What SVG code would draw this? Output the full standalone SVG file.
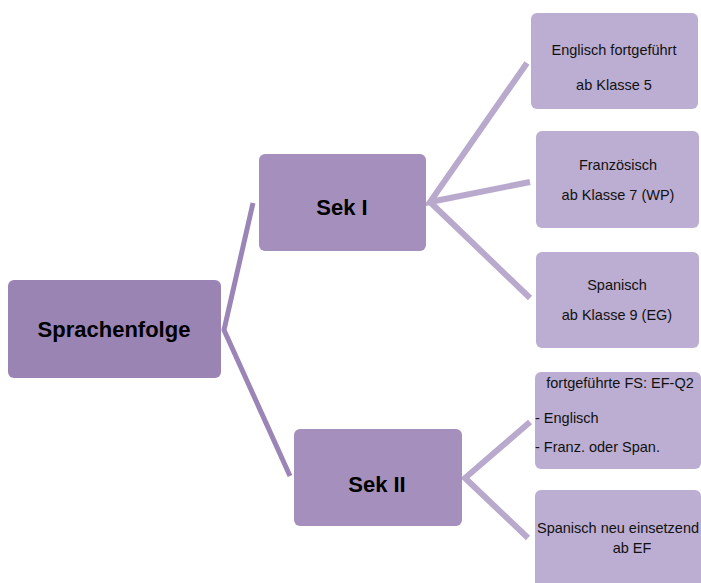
<svg xmlns="http://www.w3.org/2000/svg" width="701" height="583" viewBox="0 0 701 583">
<style>
.root{fill:#9a84b4}
.mid{fill:#a590bd}
.leaf{fill:#bcaed2}
.big{font-family:"Liberation Sans",Arial,sans-serif;font-weight:bold;font-size:22px;fill:#000;text-anchor:middle}
.small{font-family:"Liberation Sans",Arial,sans-serif;font-size:14.5px;fill:#111;text-anchor:middle}
.left{text-anchor:start}
.c1{stroke:#9b85b6;stroke-width:5;fill:none;stroke-linejoin:miter}
.c2{stroke:#b8a9cd;stroke-width:6;fill:none;stroke-linejoin:miter}
</style>
<rect width="701" height="583" fill="#fff"/>
<g id="connectors">
<polyline class="c1" points="253,203 224,330 290,476"/>
<polyline class="c2" points="527,63 430,202 530,182"/>
<line class="c2" x1="430" y1="202" x2="530" y2="298"/>
<polyline class="c2" points="530,422 465,478 528,538"/>
</g>
<g id="sprachenfolge">
<rect class="root" x="8" y="280" width="213" height="98" rx="6"/>
<text class="big" x="114" y="337">Sprachenfolge</text>
</g>
<g id="sek1">
<rect class="mid" x="259" y="154" width="167" height="97" rx="6"/>
<text class="big" x="342" y="215">Sek I</text>
</g>
<g id="sek2">
<rect class="mid" x="294" y="429" width="168" height="97" rx="6"/>
<text class="big" x="377" y="492">Sek II</text>
</g>
<g id="leaf1">
<rect class="leaf" x="531" y="13" width="167" height="96" rx="6"/>
<text class="small" x="614" y="55">Englisch fortgeführt</text>
<text class="small" x="614" y="90">ab Klasse 5</text>
</g>
<g id="leaf2">
<rect class="leaf" x="536" y="131" width="163" height="97" rx="6"/>
<text class="small" x="618" y="170">Französisch</text>
<text class="small" x="618" y="200">ab Klasse 7 (WP)</text>
</g>
<g id="leaf3">
<rect class="leaf" x="536" y="252" width="163" height="96" rx="6"/>
<text class="small" x="617" y="290">Spanisch</text>
<text class="small" x="617" y="320">ab Klasse 9 (EG)</text>
</g>
<g id="leaf4">
<rect class="leaf" x="535" y="372" width="166" height="97" rx="6"/>
<text class="small" x="620" y="388">fortgeführte FS: EF-Q2</text>
<text class="small left" x="535" y="423">- Englisch</text>
<text class="small left" x="535" y="452">- Franz. oder Span.</text>
</g>
<g id="leaf5">
<rect class="leaf" x="535" y="490" width="166" height="100" rx="6"/>
<text class="small" x="618" y="533">Spanisch neu einsetzend</text>
<text class="small" x="632" y="553">ab EF</text>
</g>
</svg>
